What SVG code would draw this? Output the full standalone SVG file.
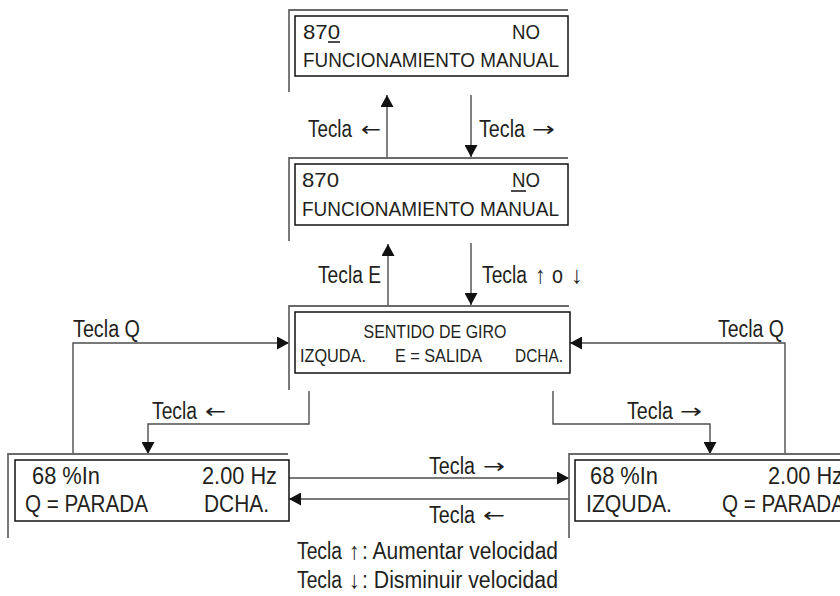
<svg xmlns="http://www.w3.org/2000/svg" width="840" height="596" viewBox="0 0 840 596">
<defs>
<style>
.box{fill:#fff;stroke:#111;stroke-width:1.5}
.frame{fill:none;stroke:#6a6a6a;stroke-width:1.8}
.conn{fill:none;stroke:#4d4d4d;stroke-width:1.4}
.ul{stroke:#231f20;stroke-width:1.6}
text{font-family:"Liberation Sans Narrow","Liberation Sans",Arial,sans-serif;fill:#231f20}
text.ar{font-family:"DejaVu Sans",sans-serif;font-size:20px}
text.va{font-family:"Liberation Sans",sans-serif;font-size:24px}
.big{font-size:21px}
.mid{font-size:18px}
.lg{font-size:24px}
.lab{font-size:23px}
</style>
<marker id="ah" viewBox="0 0 12 13" refX="12" refY="6.5" markerWidth="12" markerHeight="13" orient="auto" markerUnits="userSpaceOnUse">
<path d="M0,0 L12,6.5 L0,13 z" fill="#111"/>
</marker>
</defs>
<rect width="840" height="596" fill="#fff"/>

<g id="connectors">
<path class="conn" d="M387,157 V95" marker-end="url(#ah)"/>
<path class="conn" d="M471,95 V157" marker-end="url(#ah)"/>
<path class="conn" d="M388,306 V244" marker-end="url(#ah)"/>
<path class="conn" d="M471,243 V305" marker-end="url(#ah)"/>
<path class="conn" d="M73,454 V343 H289" marker-end="url(#ah)"/>
<path class="conn" d="M785,454 V343 H570" marker-end="url(#ah)"/>
<path class="conn" d="M309,391 V424 H148 V454" marker-end="url(#ah)"/>
<path class="conn" d="M553,391 V424 H710 V454" marker-end="url(#ah)"/>
<path class="conn" d="M289,478 H569" marker-end="url(#ah)"/>
<path class="conn" d="M569,499 H289" marker-end="url(#ah)"/>

<text class="lab" x="308" y="137" textLength="44" lengthAdjust="spacingAndGlyphs">Tecla</text>
<text class="ar" x="361" y="136" textLength="20" lengthAdjust="spacingAndGlyphs">←</text>
<text class="lab" x="479" y="137" textLength="46" lengthAdjust="spacingAndGlyphs">Tecla</text>
<text class="ar" x="532" y="136" textLength="23" lengthAdjust="spacingAndGlyphs">→</text>

<text class="lab" x="318" y="283" textLength="63" lengthAdjust="spacingAndGlyphs">Tecla E</text>
<text class="lab" x="482" y="283" textLength="45" lengthAdjust="spacingAndGlyphs">Tecla</text>
<text class="va" x="535" y="283" textLength="11" lengthAdjust="spacingAndGlyphs">↑</text>
<text class="lab" x="552" y="283" textLength="11" lengthAdjust="spacingAndGlyphs">o</text>
<text class="va" x="571" y="283" textLength="12" lengthAdjust="spacingAndGlyphs">↓</text>

<text class="lab" x="73" y="337" textLength="67" lengthAdjust="spacingAndGlyphs">Tecla Q</text>
<text class="lab" x="718" y="337" textLength="66" lengthAdjust="spacingAndGlyphs">Tecla Q</text>

<text class="lab" x="152" y="419" textLength="45" lengthAdjust="spacingAndGlyphs">Tecla</text>
<text class="ar" x="205" y="418" textLength="21" lengthAdjust="spacingAndGlyphs">←</text>
<text class="lab" x="627" y="419" textLength="46" lengthAdjust="spacingAndGlyphs">Tecla</text>
<text class="ar" x="680" y="418" textLength="22" lengthAdjust="spacingAndGlyphs">→</text>

<text class="lab" x="429" y="474" textLength="46" lengthAdjust="spacingAndGlyphs">Tecla</text>
<text class="ar" x="483" y="473" textLength="22" lengthAdjust="spacingAndGlyphs">→</text>
<text class="lab" x="429" y="523" textLength="46" lengthAdjust="spacingAndGlyphs">Tecla</text>
<text class="ar" x="483" y="522" textLength="22" lengthAdjust="spacingAndGlyphs">←</text>
</g>

<g id="node-870-0">
<path class="frame" d="M289,92 V10 H568"/>
<rect class="box" x="295" y="16" width="273" height="60"/>
<text class="big" x="303" y="39" textLength="37" lengthAdjust="spacingAndGlyphs">870</text>
<line class="ul" x1="328" y1="42" x2="340" y2="42"/>
<text class="big" x="512" y="39" textLength="28" lengthAdjust="spacingAndGlyphs">NO</text>
<text class="big" x="303" y="67" textLength="256" lengthAdjust="spacingAndGlyphs">FUNCIONAMIENTO MANUAL</text>
</g>

<g id="node-870-no">
<path class="frame" d="M289,241 V158 H568"/>
<rect class="box" x="295" y="164" width="273" height="61"/>
<text class="big" x="302" y="187" textLength="37" lengthAdjust="spacingAndGlyphs">870</text>
<line class="ul" x1="511" y1="191" x2="526" y2="191"/>
<text class="big" x="512" y="187" textLength="28" lengthAdjust="spacingAndGlyphs">NO</text>
<text class="big" x="302" y="216" textLength="257" lengthAdjust="spacingAndGlyphs">FUNCIONAMIENTO MANUAL</text>
</g>

<g id="node-sentido">
<path class="frame" d="M289,390 V306 H569"/>
<rect class="box" x="295" y="312" width="275" height="61"/>
<text class="mid" x="435" y="338" text-anchor="middle" textLength="143" lengthAdjust="spacingAndGlyphs">SENTIDO DE GIRO</text>
<text class="mid" x="300" y="362" textLength="66" lengthAdjust="spacingAndGlyphs">IZQUDA.</text>
<text class="mid" x="395" y="362" textLength="87" lengthAdjust="spacingAndGlyphs">E = SALIDA</text>
<text class="mid" x="515" y="362" textLength="48" lengthAdjust="spacingAndGlyphs">DCHA.</text>
</g>

<g id="node-dcha">
<path class="frame" d="M8,538 V454 H288"/>
<rect class="box" x="15" y="460" width="274" height="61"/>
<text class="lg" x="32" y="484" textLength="68" lengthAdjust="spacingAndGlyphs">68 %In</text>
<text class="lg" x="202" y="484" textLength="75" lengthAdjust="spacingAndGlyphs">2.00 Hz</text>
<text class="lg" x="25" y="512" textLength="123" lengthAdjust="spacingAndGlyphs">Q = PARADA</text>
<text class="lg" x="204" y="512" textLength="65" lengthAdjust="spacingAndGlyphs">DCHA.</text>
</g>

<g id="node-izquda">
<path class="frame" d="M569,538 V454 H850"/>
<rect class="box" x="575" y="460" width="274" height="61"/>
<text class="lg" x="590" y="484" textLength="68" lengthAdjust="spacingAndGlyphs">68 %In</text>
<text class="lg" x="768" y="484" textLength="75" lengthAdjust="spacingAndGlyphs">2.00 Hz</text>
<text class="lg" x="586" y="512" textLength="86" lengthAdjust="spacingAndGlyphs">IZQUDA.</text>
<text class="lg" x="722" y="512" textLength="123" lengthAdjust="spacingAndGlyphs">Q = PARADA</text>
</g>

<g id="legend">
<text class="lab" x="297" y="559" textLength="45" lengthAdjust="spacingAndGlyphs">Tecla</text>
<text class="va" x="349" y="559" textLength="11" lengthAdjust="spacingAndGlyphs">↑</text>
<text class="lab" x="362" y="559" textLength="196" lengthAdjust="spacingAndGlyphs">: Aumentar velocidad</text>
<text class="lab" x="297" y="588" textLength="45" lengthAdjust="spacingAndGlyphs">Tecla</text>
<text class="va" x="349" y="588" textLength="11" lengthAdjust="spacingAndGlyphs">↓</text>
<text class="lab" x="362" y="588" textLength="196" lengthAdjust="spacingAndGlyphs">: Disminuir velocidad</text>
</g>
</svg>
